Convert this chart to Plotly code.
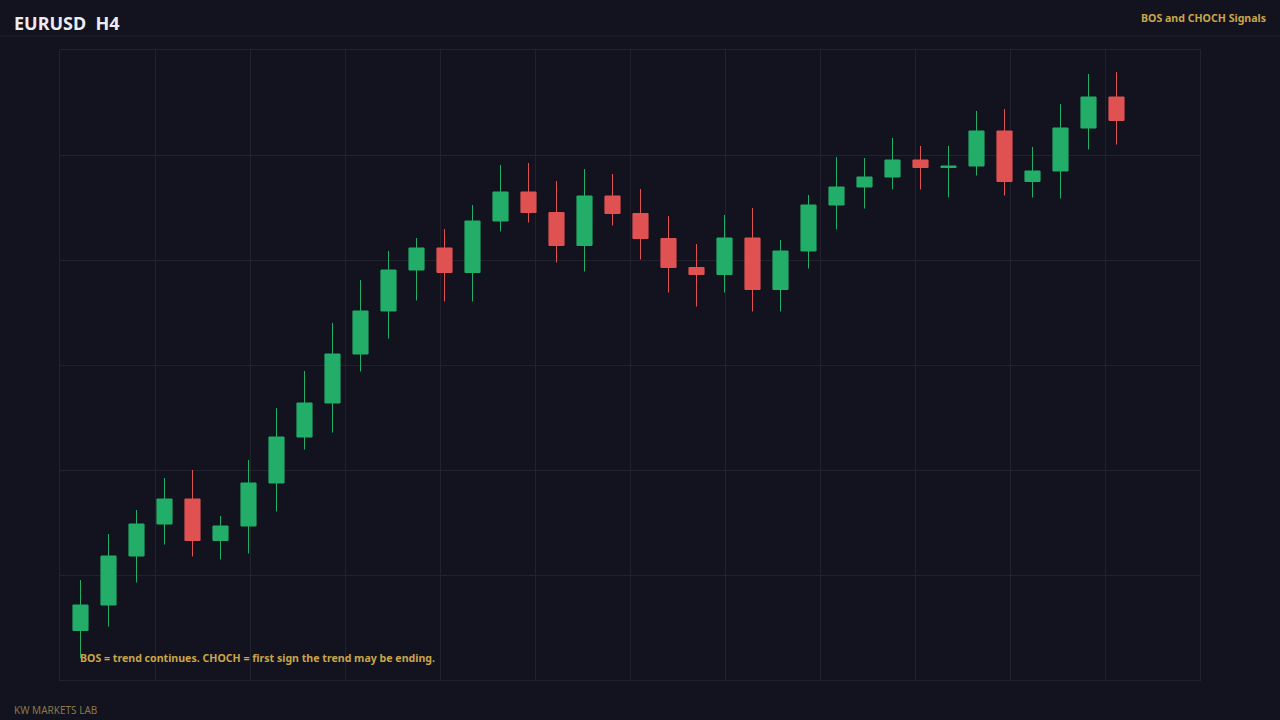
import plotly.graph_objects as go

# EURUSD H4 candles
BARS = list(range(38))
OPEN = [1.08099, 1.08150, 1.08248, 1.08312, 1.08362, 1.08279, 1.08308, 1.08394, 1.08486, 1.08554,
        1.08652, 1.08738, 1.08820, 1.08864, 1.08815, 1.08918, 1.08976, 1.08935, 1.08869, 1.08968,
        1.08933, 1.08883, 1.08825, 1.08811, 1.08884, 1.08781, 1.08858, 1.08950, 1.08986, 1.09006,
        1.09040, 1.09025, 1.09028, 1.09098, 1.08997, 1.09018, 1.09104, 1.09166]
HIGH = [1.08200, 1.08292, 1.08340, 1.08404, 1.08420, 1.08328, 1.08440, 1.08544, 1.08618, 1.08714,
        1.08800, 1.08858, 1.08884, 1.08902, 1.08950, 1.09030, 1.09034, 1.08998, 1.09022, 1.09012,
        1.08982, 1.08928, 1.08872, 1.08930, 1.08944, 1.08880, 1.08970, 1.09046, 1.09044, 1.09084,
        1.09068, 1.09068, 1.09138, 1.09142, 1.09066, 1.09152, 1.09212, 1.09216]
LOW = [1.08044, 1.08107, 1.08195, 1.08271, 1.08247, 1.08241, 1.08253, 1.08337, 1.08461, 1.08495,
       1.08617, 1.08683, 1.08759, 1.08757, 1.08757, 1.08897, 1.08915, 1.08835, 1.08817, 1.08909,
       1.08841, 1.08775, 1.08747, 1.08775, 1.08737, 1.08737, 1.08823, 1.08901, 1.08943, 1.08981,
       1.08981, 1.08965, 1.09009, 1.08969, 1.08965, 1.08963, 1.09061, 1.09071]
CLOSE = [1.08150, 1.08248, 1.08312, 1.08362, 1.08279, 1.08308, 1.08394, 1.08486, 1.08554, 1.08652,
         1.08738, 1.08820, 1.08864, 1.08815, 1.08918, 1.08976, 1.08935, 1.08869, 1.08968, 1.08933,
         1.08883, 1.08825, 1.08811, 1.08884, 1.08781, 1.08858, 1.08950, 1.08986, 1.09006, 1.09040,
         1.09025, 1.09028, 1.09098, 1.08997, 1.09018, 1.09104, 1.09166, 1.09119]

# COLORS
BG = '#13131f'
GRID = '#22222f'
UP = '#22ae68'
DOWN = '#e05252'
GOLD = '#c9a548'
DIM_GOLD = '#8a7748'
FONT = 'Noto Sans'

# x range: 28px per bar, nudged half a pixel so 1px wicks stay crisp
X0 = -20.5 / 28
X1 = X0 + 1140 / 28

fig = go.Figure()
fig.add_trace(go.Candlestick(
    x=BARS, open=OPEN, high=HIGH, low=LOW, close=CLOSE,
    increasing=dict(line=dict(color=UP, width=1), fillcolor=UP),
    decreasing=dict(line=dict(color=DOWN, width=1), fillcolor=DOWN),
    whiskerwidth=0, hoverinfo='skip', showlegend=False,
))

fig.update_xaxes(range=[X0, X1], tick0=X0, dtick=95 / 28,
                 showgrid=True, gridcolor=GRID, gridwidth=1, zeroline=False,
                 showticklabels=False, ticks='', showline=True, mirror=True,
                 linecolor=GRID, linewidth=1, rangeslider_visible=False)
fig.update_yaxes(range=[1.0800, 1.0926], tick0=1.0800, dtick=0.0021,
                 showgrid=True, gridcolor=GRID, gridwidth=1, zeroline=False,
                 showticklabels=False, ticks='', showline=True, mirror=True,
                 linecolor=GRID, linewidth=1)

# header separator
fig.add_shape(type='line', xref='paper', yref='paper',
              x0=-60 / 1140, x1=1220 / 1140, y0=644 / 630, y1=644 / 630,
              line=dict(color='#22222f', width=1))

fig.add_annotation(text='<b>EURUSD  H4</b>', xref='paper', yref='paper',
                   x=-48 / 1140, y=657 / 630, xanchor='left', yanchor='middle',
                   showarrow=False, font=dict(family=FONT, size=18, color='#ececf2'))
fig.add_annotation(text='<b>BOS and CHOCH Signals</b>', xref='paper', yref='paper',
                   x=1208 / 1140, y=662 / 630, xanchor='right', yanchor='middle',
                   showarrow=False, font=dict(family=FONT, size=10.6, color=GOLD))
fig.add_annotation(text='<b>BOS = trend continues. CHOCH = first sign the trend may be ending.</b>',
                   xref='paper', yref='paper', x=18 / 1140, y=22 / 630,
                   xanchor='left', yanchor='middle', showarrow=False,
                   font=dict(family=FONT, size=10.6, color=GOLD))
fig.add_annotation(text='KW MARKETS LAB', xref='paper', yref='paper',
                   x=-48 / 1140, y=-30 / 630, xanchor='left', yanchor='middle',
                   showarrow=False, font=dict(family=FONT, size=10, color=DIM_GOLD))

fig.update_layout(
    width=1280, height=720,
    margin=dict(l=60, r=80, t=50, b=40),
    paper_bgcolor=BG, plot_bgcolor=BG,
    boxgap=0.23,
    showlegend=False,
    font=dict(family=FONT),
)

fig.write_html("out.html", config={'displayModeBar': False},
               post_script="document.body.style.margin='0';document.body.style.background='#13131f';")
